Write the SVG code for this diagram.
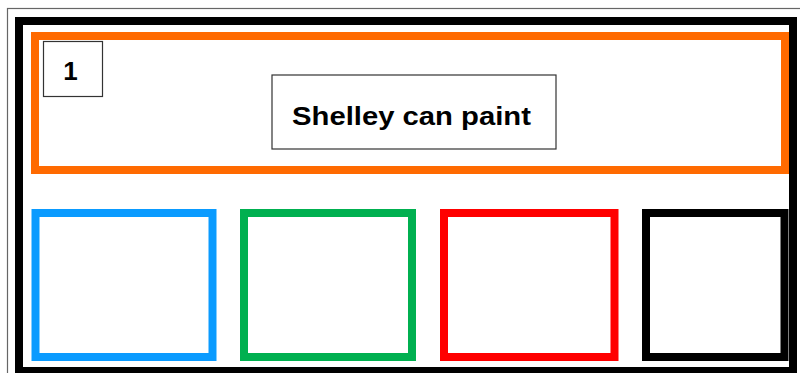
<svg xmlns="http://www.w3.org/2000/svg" width="800" height="373" viewBox="0 0 800 373">
  <style>
    .frame { fill: none; stroke-width: 8; }
    .thin { fill: #ffffff; stroke: #333333; stroke-width: 1.2; }
    .lbl { font-family: "Liberation Sans", Arial, sans-serif; font-weight: bold; fill: #000000; }
  </style>
  <rect x="0" y="0" width="800" height="373" fill="#ffffff"/>
  <g id="page">
    <rect x="7.5" y="8.5" width="800" height="380" fill="none" stroke="#666666" stroke-width="1.2"/>
    <rect x="19" y="21" width="774" height="350" class="frame" stroke="#000000"/>
  </g>
  <g id="panel-top">
    <rect x="35" y="36" width="750" height="134" class="frame" stroke="#FF6A00"/>
  </g>
  <g id="number-box">
    <rect x="43.5" y="41.5" width="59" height="55" class="thin"/>
    <text x="70.5" y="80" text-anchor="middle" font-size="26" class="lbl">1</text>
  </g>
  <g id="title-box">
    <rect x="272" y="75" width="284" height="74" class="thin"/>
    <text x="292" y="124.5" font-size="25" textLength="239" lengthAdjust="spacingAndGlyphs" class="lbl">Shelley can paint</text>
  </g>
  <g id="box-blue">
    <rect x="35.5" y="213" width="177" height="144" class="frame" stroke="#0A9BFF"/>
  </g>
  <g id="box-green">
    <rect x="244" y="213" width="168" height="144" class="frame" stroke="#00B050"/>
  </g>
  <g id="box-red">
    <rect x="444" y="213" width="170.5" height="144" class="frame" stroke="#FF0000"/>
  </g>
  <g id="box-black">
    <rect x="646" y="213" width="138.5" height="144" class="frame" stroke="#000000"/>
  </g>
  <g id="connectors"></g>
</svg>
